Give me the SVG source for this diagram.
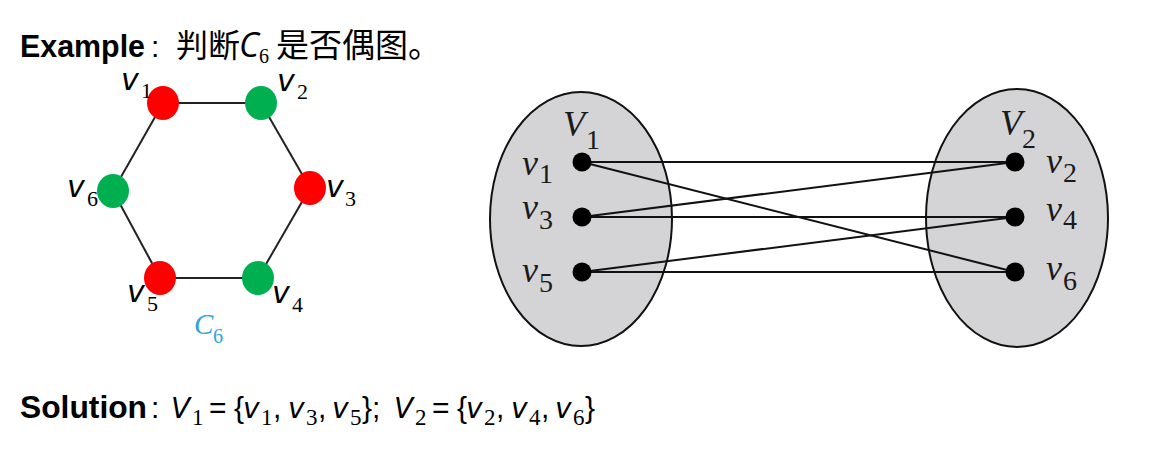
<svg xmlns="http://www.w3.org/2000/svg" width="1151" height="451" viewBox="0 0 1151 451">
<style>
.bold{font-family:"Liberation Sans",Arial,sans-serif;font-weight:bold;fill:#000}
.reg{font-family:"Liberation Sans",Arial,sans-serif;fill:#000}
.cjk{font-family:"Noto Sans CJK SC","Noto Sans",sans-serif;fill:#000}
.mi{font-family:"DejaVu Sans","Open Sans",sans-serif;font-style:italic;fill:#000}
.ci{font-family:"Open Sans","Noto Sans",sans-serif;font-style:italic;fill:#000}
.md{font-family:"Liberation Serif",serif;fill:#000}
.ti{font-family:"Liberation Serif",serif;font-style:italic;fill:#1a1a1a}
.td{font-family:"Liberation Serif",serif;fill:#1a1a1a}
.edge{stroke:#222;stroke-width:2;fill:none}
.bedge{stroke:#111;stroke-width:2;fill:none}
.red{fill:#ff0000}
.green{fill:#00b050}
.set{fill:#d4d4d6;stroke:#111;stroke-width:2}
.dot{fill:#000}
.hv{font-size:30px}
.hs{font-size:22px}
.bv{font-size:36px}
.bs{font-size:28px}
.sv{font-size:28px}
.ss{font-size:23px}
</style>

<g id="title">
<text x="20" y="57" class="bold" font-size="32" textLength="125" lengthAdjust="spacingAndGlyphs">Example</text>
<text x="151" y="57" class="reg" font-size="30">:</text>
<text x="176" y="57" class="cjk" font-size="32">判断</text>
<text x="239" y="57" class="ci" font-size="34">C</text>
<text x="259" y="63" class="md" font-size="20">6</text>
<text x="276" y="57" class="cjk" font-size="33">是否偶图。</text>
</g>

<g id="hexagon-edges">
<line class="edge" x1="163" y1="103" x2="261" y2="103"/>
<line class="edge" x1="261" y1="103" x2="310" y2="188"/>
<line class="edge" x1="310" y1="188" x2="258" y2="278"/>
<line class="edge" x1="258" y1="278" x2="160" y2="278"/>
<line class="edge" x1="160" y1="278" x2="113" y2="191"/>
<line class="edge" x1="113" y1="191" x2="163" y2="103"/>
</g>

<g id="h-v1"><ellipse class="red" cx="163" cy="103" rx="16" ry="17"/>
<text x="121" y="90" class="mi hv">v</text><text x="141" y="98" class="md hs">1</text></g>
<g id="h-v2"><ellipse class="green" cx="261" cy="103" rx="16" ry="17"/>
<text x="277" y="91" class="mi hv">v</text><text x="297" y="99" class="md hs">2</text></g>
<g id="h-v3"><ellipse class="red" cx="310" cy="188" rx="16" ry="17"/>
<text x="326" y="197" class="mi hv">v</text><text x="345" y="206" class="md hs">3</text></g>
<g id="h-v4"><ellipse class="green" cx="258" cy="278" rx="16" ry="17"/>
<text x="272" y="303" class="mi hv">v</text><text x="292" y="312" class="md hs">4</text></g>
<g id="h-v5"><ellipse class="red" cx="160" cy="278" rx="16" ry="17"/>
<text x="127" y="302" class="mi hv">v</text><text x="147" y="311" class="md hs">5</text></g>
<g id="h-v6"><ellipse class="green" cx="113" cy="191" rx="16" ry="17"/>
<text x="67" y="197" class="mi hv">v</text><text x="87" y="206" class="md hs">6</text></g>
<g id="c6-label">
<text x="194" y="334" font-family="Liberation Serif,serif" font-style="italic" font-size="29" fill="#2ba6de">C</text>
<text x="213" y="343" font-family="Liberation Serif,serif" font-size="20" fill="#2ba6de">6</text>
</g>

<g id="set-V1"><ellipse class="set" cx="581" cy="219" rx="91" ry="127"/>
<text x="563" y="136" class="ti bv">V</text><text x="586" y="149" class="td bs">1</text></g>
<g id="set-V2"><ellipse class="set" cx="1017" cy="218" rx="91" ry="129"/>
<text x="1000" y="135" class="ti bv">V</text><text x="1022" y="148" class="td bs">2</text></g>

<g id="connectors">
<line class="bedge" x1="582" y1="162" x2="1015" y2="162"/>
<line class="bedge" x1="582" y1="162" x2="1015" y2="272"/>
<line class="bedge" x1="582" y1="217" x2="1015" y2="162"/>
<line class="bedge" x1="582" y1="217" x2="1015" y2="217"/>
<line class="bedge" x1="582" y1="272" x2="1015" y2="217"/>
<line class="bedge" x1="582" y1="272" x2="1015" y2="272"/>
</g>

<g id="b-v1"><circle class="dot" cx="582" cy="162" r="9.5"/>
<text x="522" y="175" class="ti bv">v</text><text x="539" y="183" class="td bs">1</text></g>
<g id="b-v3"><circle class="dot" cx="582" cy="217" r="9.5"/>
<text x="522" y="219" class="ti bv">v</text><text x="539" y="229" class="td bs">3</text></g>
<g id="b-v5"><circle class="dot" cx="582" cy="272" r="9.5"/>
<text x="522" y="282" class="ti bv">v</text><text x="539" y="292" class="td bs">5</text></g>
<g id="b-v2"><circle class="dot" cx="1015" cy="162" r="9.5"/>
<text x="1046" y="173" class="ti bv">v</text><text x="1063" y="182" class="td bs">2</text></g>
<g id="b-v4"><circle class="dot" cx="1015" cy="217" r="9.5"/>
<text x="1046" y="221" class="ti bv">v</text><text x="1063" y="229" class="td bs">4</text></g>
<g id="b-v6"><circle class="dot" cx="1015" cy="272" r="9.5"/>
<text x="1046" y="280" class="ti bv">v</text><text x="1063" y="290" class="td bs">6</text></g>

<g id="solution">
<text x="20" y="418" class="bold" font-size="32" textLength="127" lengthAdjust="spacingAndGlyphs">Solution</text>
<text x="151" y="418" class="reg" font-size="30">:</text>
<text class="mi sv" y="418"><tspan x="171">V</tspan><tspan x="243">v</tspan><tspan x="288">v</tspan><tspan x="332">v</tspan><tspan x="394">V</tspan><tspan x="466">v</tspan><tspan x="511">v</tspan><tspan x="555">v</tspan></text>
<text class="md ss" y="425"><tspan x="192">1</tspan><tspan x="261">1</tspan><tspan x="306">3</tspan><tspan x="350">5</tspan><tspan x="415">2</tspan><tspan x="484">2</tspan><tspan x="529">4</tspan><tspan x="573">6</tspan></text>
<text class="reg" font-size="30" y="418"><tspan x="209">=</tspan><tspan x="234">{</tspan><tspan x="273">,</tspan><tspan x="318">,</tspan><tspan x="362">};</tspan><tspan x="432">=</tspan><tspan x="457">{</tspan><tspan x="496">,</tspan><tspan x="541">,</tspan><tspan x="585">}</tspan></text>
</g>
</svg>
